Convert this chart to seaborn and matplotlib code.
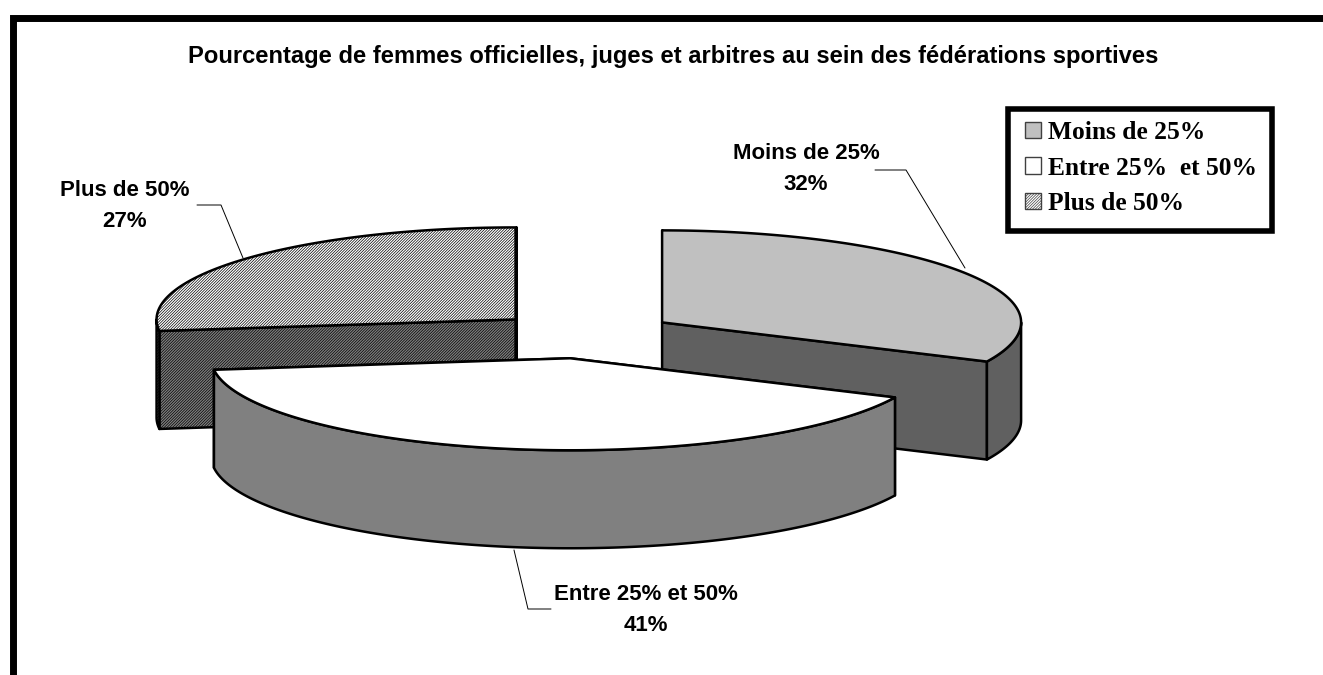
import numpy as np
import seaborn as sns
import matplotlib as mpl
import matplotlib.pyplot as plt
from matplotlib.patches import Polygon, Patch, Rectangle

categories = ["Moins de 25%", "Entre 25% et 50%", "Plus de 50%"]
legend_labels = ["Moins de 25%", "Entre 25%  et 50%", "Plus de 50%"]
values = [32, 41, 27]
title = "Pourcentage de femmes officielles, juges et arbitres au sein des fédérations sportives"

top_colors = ["#c0c0c0", "#ffffff", "#ffffff"]
wall_colors = ["#606060", "#808080", "#808080"]
hatches = [None, None, "////////////"]

sns.set_theme(style="white")
plt.rcParams["font.family"] = ["Liberation Sans", "DejaVu Sans"]
mpl.rcParams["hatch.linewidth"] = 0.5

# pie geometry, in pixels of the picture
cx, cy = 584.5, 335
rx, ry = 359, 92
depth = 98
explode = 0.256

fig = plt.figure(figsize=(13.23, 6.75), dpi=100)
ax = fig.add_axes([0, 0, 1, 1])
ax.set_xlim(0, 1323)
ax.set_ylim(675, 0)
ax.axis("off")


def arc(x0, y0, a, b):
    t = np.radians(np.linspace(a, b, 200))
    return np.column_stack([x0 + rx * np.sin(t), y0 - ry * np.cos(t)])


def wall(pts):
    return np.vstack([pts, pts[::-1] + [0, depth]])


def draw_slice(i, a, b):
    mid = np.radians((a + b) / 2)
    x0 = cx + explode * rx * np.sin(mid)
    y0 = cy - explode * ry * np.cos(mid)
    apex = np.array([[x0, y0]])
    pts = arc(x0, y0, a, b)
    style = dict(edgecolor="black", linewidth=1.8, joinstyle="round")
    # straight cut walls first, then the rim, then the top
    for edge in (pts[0], pts[-1]):
        ax.add_patch(Polygon(wall(np.vstack([apex, edge])), facecolor=wall_colors[i], hatch=hatches[i], **style))
    lo, hi = max(a, 90), min(b, 270)
    if lo < hi:
        ax.add_patch(Polygon(wall(arc(x0, y0, lo, hi)), facecolor=wall_colors[i], hatch=hatches[i], **style))
    ax.add_patch(Polygon(np.vstack([apex, pts]), facecolor=top_colors[i], hatch=hatches[i], **style))


angles = np.cumsum([0] + values) * 3.6
# back slices first, the front one goes over them
for i in [2, 0, 1]:
    draw_slice(i, angles[i], angles[i + 1])

# chart frame, the right and bottom sides are cut off
ax.plot([12.5, 12.5, 1323], [675, 17.5, 17.5], color="black", linewidth=5, solid_joinstyle="miter")

ax.text(673, 57, title, ha="center", va="center", fontsize=17.1, fontweight="bold", color="black")

# leader lines
ax.plot([875, 906, 965], [170, 170, 268], color="black", linewidth=0.7)
ax.plot([197, 221, 243], [205, 205, 258], color="black", linewidth=0.7)
ax.plot([514, 528, 551], [550, 609, 609], color="black", linewidth=0.7)

label_pos = [(806, 169), (646, 610), (125, 206)]
for i in range(3):
    ax.text(label_pos[i][0], label_pos[i][1], f"{categories[i]}\n{values[i]}%", ha="center", va="center",
            fontsize=16, fontweight="bold", color="black", linespacing=1.6)

# legend box is drawn apart so that its padding can differ from the rows
ax.add_patch(Rectangle((1008, 109), 264, 122, facecolor="white", edgecolor="black", linewidth=4, joinstyle="miter"))
handles = [Patch(facecolor=top_colors[i], edgecolor="#404040", hatch=hatches[i], linewidth=1) for i in range(3)]
leg = ax.legend(handles, legend_labels, loc="upper left", bbox_to_anchor=(1025, 121), bbox_transform=ax.transData,
                borderaxespad=0, frameon=False,
                prop=dict(family="Liberation Serif", weight="bold", size=18.4),
                handlelength=0.62, handleheight=0.62, handletextpad=0.27, labelspacing=0.49, borderpad=0,
                labelcolor="black")

fig.savefig("out.png", dpi=100)
